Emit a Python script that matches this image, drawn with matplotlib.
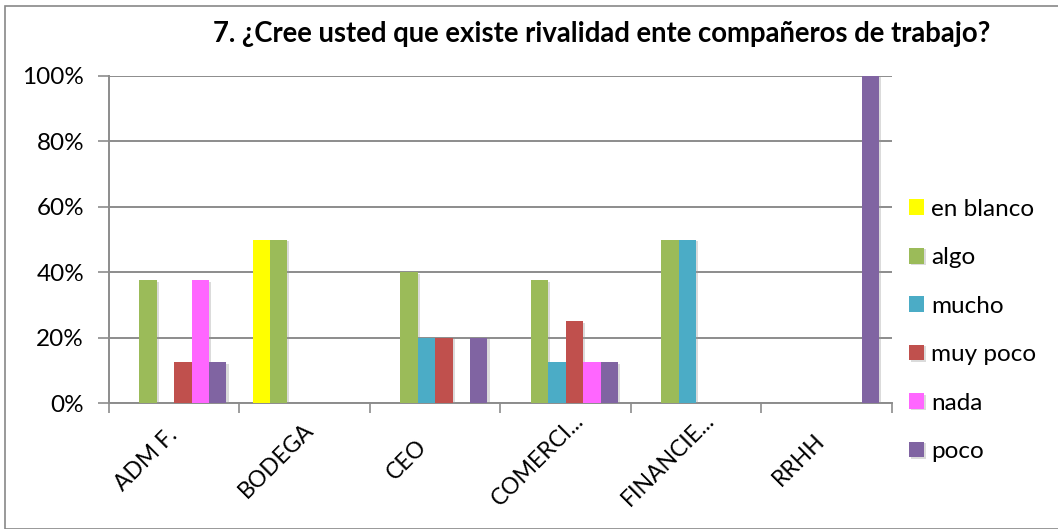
import matplotlib
matplotlib.use("Agg")
import matplotlib.pyplot as plt
import matplotlib.patheffects as pe
import matplotlib.transforms as mtransforms
from matplotlib.patches import Rectangle
import numpy as np

plt.rcParams['font.family'] = ['Lato', 'DejaVu Sans']

title = "7. ¿Cree usted que existe rivalidad ente compañeros de trabajo?"
categories = ["ADM F.", "BODEGA", "CEO", "COMERCI...", "FINANCIE...", "RRHH"]
series_names = ["en blanco", "algo", "mucho", "muy poco", "nada", "poco"]
series_colors = ["#FFFF00", "#9BBB59", "#4BACC6", "#C0504D", "#FF66FF", "#8064A2"]

en_blanco = [0, 50, 0, 0, 0, 0]
algo = [37.5, 50, 40, 37.5, 50, 0]
mucho = [0, 0, 20, 12.5, 50, 0]
muy_poco = [12.5, 0, 20, 25, 0, 0]
nada = [37.5, 0, 0, 12.5, 0, 0]
poco = [12.5, 0, 20, 12.5, 0, 100]
series_values = [en_blanco, algo, mucho, muy_poco, nada, poco]

W, H = 1058, 529
fig = plt.figure(figsize=(W / 100, H / 100), dpi=100)

# outer chart frame
fig.patches.append(Rectangle((5 / W, 0), 1.2, (H - 6) / H, transform=fig.transFigure,
                             fill=False, edgecolor="#888888", linewidth=1.2))

ax = fig.add_axes([109 / W, (H - 403) / H, 783 / W, 327 / H])

n = len(series_names)
gap = 1.5
bw = 1.0 / (n + gap)
x = np.arange(len(categories))
shadow = [pe.SimplePatchShadow(offset=(1.5, -1), shadow_rgbFace="#999999", alpha=0.35), pe.Normal()]
for i, (name, vals, col) in enumerate(zip(series_names, series_values, series_colors)):
    pos = x + (gap / 2) * bw + (i + 0.5) * bw
    bars = ax.bar(pos, vals, width=bw, color=col, label=name, zorder=3, linewidth=0)
    for b in bars:
        if b.get_height() > 0:
            b.set_path_effects(shadow)

ax.set_xlim(0, len(categories))
ax.set_ylim(0, 100)
ax.set_yticks(np.arange(0, 101, 20))
ax.set_yticklabels([f"{v}%" for v in range(0, 101, 20)], fontsize=17.5)
ax.yaxis.grid(True, color="#8c8c8c", linewidth=1.4, zorder=0)
ax.set_axisbelow(True)

ax.set_xticks(np.arange(len(categories) + 1))
ax.set_xticklabels([])
ax.tick_params(axis="x", length=7, width=1.2, color="#8c8c8c", direction="out")
ax.tick_params(axis="y", length=8, width=1.2, color="#8c8c8c", direction="out", pad=10)

# rotated category labels, centred below-left of each category centre
label_tf = ax.get_xaxis_transform() + mtransforms.ScaledTranslation(
    -28 / 100, -57 / 100, fig.dpi_scale_trans)
for xc, name in zip(x + 0.5, categories):
    ax.text(xc, 0, name, transform=label_tf, rotation=45, ha="center", va="center",
            rotation_mode="anchor", fontsize=16.5, clip_on=False)

for s in ["top", "right"]:
    ax.spines[s].set_visible(False)
for s in ["left", "bottom"]:
    ax.spines[s].set_color("#8c8c8c")
    ax.spines[s].set_linewidth(1.4)

fig.text(602 / W, 1 - 34 / H, title, ha="center", va="center",
         fontsize=19.8, fontweight="bold")

leg = fig.legend(loc="upper left", bbox_to_anchor=(899 / W, 1 - 189 / H),
                 frameon=False, fontsize=17.5, handlelength=0.62, handleheight=0.62,
                 handletextpad=0.3, labelspacing=1.13, borderaxespad=0)

fig.savefig("out.png", dpi=100)
